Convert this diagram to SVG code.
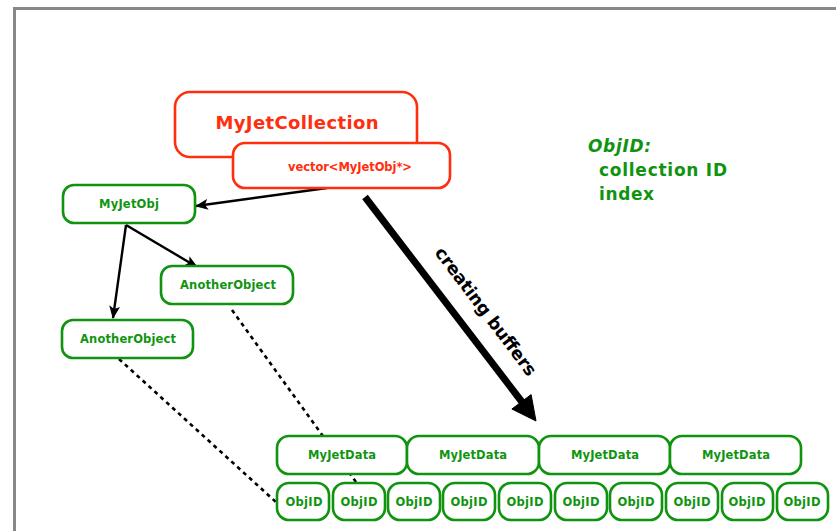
<svg xmlns="http://www.w3.org/2000/svg" width="836" height="531" viewBox="0 0 836 531">
<defs>
<style>
.red{fill:#fff;stroke:#ff2e0e;stroke-width:2.6}
.grn{fill:#fff;stroke:#109410;stroke-width:2.6}
.rt{fill:#ff2e0e;font-family:"DejaVu Sans",sans-serif;font-weight:bold;text-anchor:middle}
.gt{fill:#109410;font-family:"DejaVu Sans",sans-serif;font-weight:bold;text-anchor:middle}
.lt{fill:#109410;font-family:"DejaVu Sans",sans-serif;font-weight:bold}
.bt{fill:#000;font-family:"DejaVu Sans",sans-serif;font-weight:bold;text-anchor:middle}
.ar{stroke:#000;stroke-width:2.4;fill:none;marker-end:url(#ah)}
.dot{stroke:#000;stroke-width:2.6;fill:none;stroke-dasharray:4 4}
</style>
<marker id="ah" viewBox="0 0 13 11" refX="12" refY="5.5" markerWidth="13" markerHeight="11" markerUnits="userSpaceOnUse" orient="auto">
<path d="M0,0 L13,5.5 L0,11 L3,5.5 z" fill="#000"/>
</marker>
</defs>
<rect width="836" height="531" fill="#fff"/>
<path d="M14.5,540 V8.5 H850" fill="none" stroke="#888" stroke-width="3"/>

<g id="connectors">
<line class="dot" x1="232" y1="310" x2="356" y2="482"/>
<line class="dot" x1="119" y1="359" x2="277" y2="503"/>
<line class="ar" x1="327" y1="188" x2="196" y2="206"/>
<line class="ar" x1="126" y1="225" x2="113" y2="318"/>
<line class="ar" x1="126" y1="225" x2="197" y2="267"/>
<line x1="365" y1="197" x2="522" y2="402" stroke="#000" stroke-width="7"/>
<polygon points="536,421 531.1,394.6 511.9,409.0" fill="#000" stroke="#000" stroke-width="1"/>
<text class="bt" transform="translate(485,312) rotate(52.9)" x="0" y="5" font-size="17.5" textLength="156">creating buffers</text>
</g>

<g id="myjetcollection">
<rect class="red" x="175" y="92" width="242" height="65" rx="15"/>
<text class="rt" x="297" y="129" font-size="18" textLength="163">MyJetCollection</text>
</g>
<g id="vector">
<rect class="red" x="233" y="143" width="217" height="45" rx="12"/>
<text class="rt" x="350" y="171" font-size="11.5" textLength="124">vector&lt;MyJetObj*&gt;</text>
</g>

<g id="myjetobj">
<rect class="grn" x="63" y="185" width="132" height="38" rx="11"/>
<text class="gt" x="129" y="208" font-size="11.5" textLength="60">MyJetObj</text>
</g>
<g id="anotherobject1">
<rect class="grn" x="161" y="266" width="132" height="38" rx="11"/>
<text class="gt" x="228" y="289" font-size="11.5" textLength="96">AnotherObject</text>
</g>
<g id="anotherobject2">
<rect class="grn" x="62" y="320" width="131" height="38" rx="11"/>
<text class="gt" x="128" y="343" font-size="11.5" textLength="96">AnotherObject</text>
</g>

<g id="legend">
<text class="lt" x="588" y="152" font-size="17" font-style="italic" textLength="63">ObjID:</text>
<text class="lt" x="599" y="176" font-size="17" textLength="128">collection ID</text>
<text class="lt" x="599" y="200" font-size="17" textLength="55">index</text>
</g>

<g id="myjetdata1"><rect class="grn" x="277" y="436" width="130" height="38" rx="12"/><text class="gt" x="342" y="459" font-size="11.5" textLength="68">MyJetData</text></g>
<g id="myjetdata2"><rect class="grn" x="407" y="436" width="132" height="38" rx="12"/><text class="gt" x="473" y="459" font-size="11.5" textLength="68">MyJetData</text></g>
<g id="myjetdata3"><rect class="grn" x="539" y="436" width="131" height="38" rx="12"/><text class="gt" x="605" y="459" font-size="11.5" textLength="68">MyJetData</text></g>
<g id="myjetdata4"><rect class="grn" x="670" y="436" width="131" height="38" rx="12"/><text class="gt" x="736" y="459" font-size="11.5" textLength="68">MyJetData</text></g>

<g id="objid1"><rect class="grn" x="277" y="483" width="52" height="37" rx="12"/><text class="gt" x="304" y="506" font-size="11.5" textLength="37">ObjID</text></g>
<g id="objid2"><rect class="grn" x="333" y="483" width="52" height="37" rx="12"/><text class="gt" x="359" y="506" font-size="11.5" textLength="37">ObjID</text></g>
<g id="objid3"><rect class="grn" x="388" y="483" width="52" height="37" rx="12"/><text class="gt" x="414" y="506" font-size="11.5" textLength="37">ObjID</text></g>
<g id="objid4"><rect class="grn" x="443" y="483" width="52" height="37" rx="12"/><text class="gt" x="469" y="506" font-size="11.5" textLength="37">ObjID</text></g>
<g id="objid5"><rect class="grn" x="499" y="483" width="52" height="37" rx="12"/><text class="gt" x="525" y="506" font-size="11.5" textLength="37">ObjID</text></g>
<g id="objid6"><rect class="grn" x="555" y="483" width="52" height="37" rx="12"/><text class="gt" x="581" y="506" font-size="11.5" textLength="37">ObjID</text></g>
<g id="objid7"><rect class="grn" x="610" y="483" width="52" height="37" rx="12"/><text class="gt" x="636" y="506" font-size="11.5" textLength="37">ObjID</text></g>
<g id="objid8"><rect class="grn" x="666" y="483" width="52" height="37" rx="12"/><text class="gt" x="692" y="506" font-size="11.5" textLength="37">ObjID</text></g>
<g id="objid9"><rect class="grn" x="722" y="483" width="51" height="37" rx="12"/><text class="gt" x="747" y="506" font-size="11.5" textLength="37">ObjID</text></g>
<g id="objid10"><rect class="grn" x="777" y="483" width="51" height="37" rx="12"/><text class="gt" x="802" y="506" font-size="11.5" textLength="37">ObjID</text></g>
</svg>
